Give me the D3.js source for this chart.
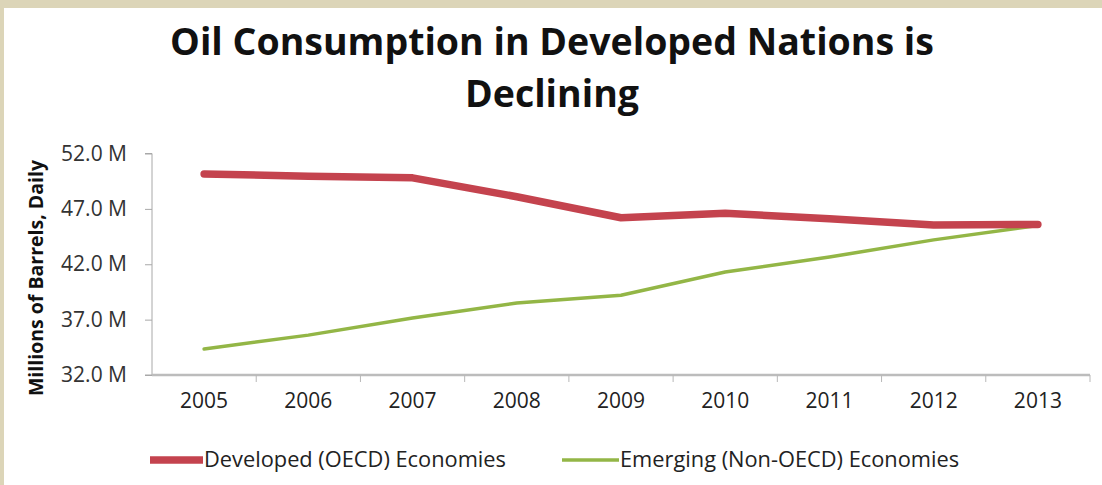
<!DOCTYPE html>
<html><head><meta charset="utf-8">
<script src="https://cdn.jsdelivr.net/npm/d3@7"></script>
<style>
html,body{margin:0;padding:0;background:#dcd5b8;}
svg{display:block;}
</style></head><body>
<svg id="c" width="1102" height="485"></svg>
<script>
const years = ["2005","2006","2007","2008","2009","2010","2011","2012","2013"];
const developed = [50.15, 49.95, 49.8, 48.1, 46.2, 46.6, 46.1, 45.55, 45.6];
const emerging = [34.35, 35.6, 37.15, 38.5, 39.2, 41.3, 42.65, 44.2, 45.5];
const yTicks = [32, 37, 42, 47, 52];
const seriesNames = ["Developed (OECD) Economies", "Emerging (Non-OECD) Economies"];
const titleLines = ["Oil Consumption in Developed Nations is", "Declining"];
const yTitle = "Millions of Barrels, Daily";

const svg = d3.select("#c");
const font = "'Open Sans', sans-serif";
svg.append("rect").attr("x",4).attr("y",8).attr("width",1098).attr("height",477).attr("fill","#ffffff");

const x = d3.scaleBand().domain(years).range([152,1090]);
const y = d3.scaleLinear().domain([32,52]).range([375,153.5]);

// title
svg.append("g").selectAll("text").data(titleLines).join("text")
  .attr("x",552).attr("y",(d,i)=>55+i*52)
  .attr("text-anchor","middle").attr("font-family",font).attr("font-weight","bold")
  .attr("font-size",37.5).attr("fill","#111").text(d=>d);

// y axis
const yAxis = svg.append("g").attr("transform","translate(152,0)")
  .call(d3.axisLeft(y).tickValues(yTicks).tickSize(7).tickPadding(18).tickFormat(d=>d3.format(".1f")(d)+" M"));
yAxis.select(".domain").attr("stroke","#a8a8a8").attr("d","M-7,153.5H0V375H-7");
yAxis.selectAll(".tick line").attr("stroke","#a8a8a8");
yAxis.selectAll("text").attr("font-family",font).attr("font-size",21).attr("fill","#333");

// x axis
const xAxis = svg.append("g").attr("transform","translate(0,375)")
  .call(d3.axisBottom(x).tickSize(0).tickPadding(18));
xAxis.select(".domain").attr("stroke","#bcbcbc").attr("stroke-width",2.5).attr("d","M152,0H1090");
xAxis.selectAll("text").attr("font-family",font).attr("font-size",21).attr("fill","#222");
const bounds = years.map(d=>x(d)).concat([x.range()[1]]).slice(1);
xAxis.append("g").selectAll("line").data(bounds).join("line")
  .attr("x1",d=>d).attr("x2",d=>d).attr("y1",0).attr("y2",7).attr("stroke","#b8b8b8");

// y title
svg.append("text").attr("transform","translate(43,278) rotate(-90)")
  .attr("text-anchor","middle").attr("font-family",font).attr("font-weight","bold")
  .attr("font-size",19.5).attr("fill","#111").text(yTitle);

const line = d3.line().x((d,i)=>x(years[i])+x.bandwidth()/2).y(d=>y(d));
svg.append("path").datum(emerging).attr("d",line).attr("fill","none")
  .attr("stroke","#93b646").attr("stroke-width",3.5).attr("stroke-linejoin","round").attr("stroke-linecap","round");
svg.append("path").datum(developed).attr("d",line).attr("fill","none")
  .attr("stroke","#c4434e").attr("stroke-width",7.5).attr("stroke-linejoin","round").attr("stroke-linecap","round");

// legend
const leg = [{name:seriesNames[0],c:"#c4434e",w:7.5,x1:150,x2:203},{name:seriesNames[1],c:"#93b646",w:3.5,x1:562,x2:619}];
const lg = svg.append("g").selectAll("g").data(leg).join("g");
lg.append("line").attr("x1",d=>d.x1).attr("x2",d=>d.x2).attr("y1",460).attr("y2",460)
  .attr("stroke",d=>d.c).attr("stroke-width",d=>d.w);
lg.append("text").attr("x",d=>d.x2+1).attr("y",467).attr("font-family",font)
  .attr("font-size",21.8).attr("fill","#222").text(d=>d.name);
</script>
</body></html>
